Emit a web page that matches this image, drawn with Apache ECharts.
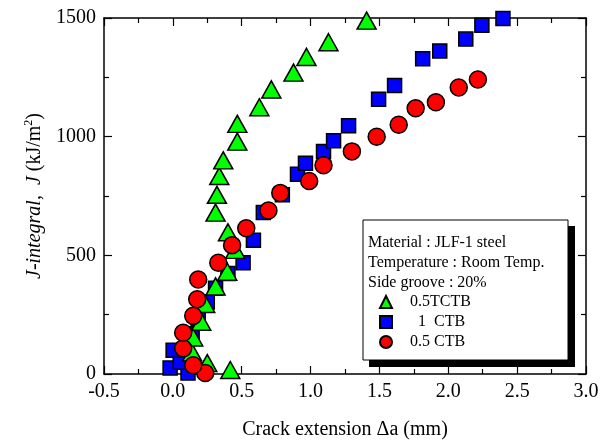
<!DOCTYPE html>
<html>
<head>
<meta charset="UTF-8">
<script src="https://cdn.jsdelivr.net/npm/echarts/dist/echarts.min.js"></script>
<style>
  html, body { margin: 0; padding: 0; background: #ffffff; }
  #jrPlot { width: 611px; height: 445px; }
</style>
</head>
<body>
<div id="jrPlot"></div>
<script type="text/javascript">
// Data: [crack extension (mm), J (kJ/m2)]
const tctb05 = [
    [0.417, 17], [0.25, 46], [0.14, 91], [0.148, 154], [0.206, 220], [0.235, 295],
    [0.31, 369], [0.395, 431], [0.453, 523], [0.40, 597], [0.31, 680], [0.32, 755],
    [0.337, 834], [0.366, 900], [0.468, 979], [0.468, 1054], [0.628, 1124], [0.715, 1199],
    [0.876, 1270], [0.97, 1336], [1.13, 1398], [1.407, 1489]
];
const ctb1 = [
    [-0.02, 25], [0.11, 4], [0.053, 50], [0.002, 100], [0.14, 170], [0.184, 232],
    [0.25, 303], [0.31, 361], [0.40, 423], [0.51, 469], [0.585, 564], [0.657, 680],
    [0.795, 755], [0.905, 842], [0.963, 888], [1.094, 938], [1.167, 983], [1.276, 1046],
    [1.494, 1158], [1.61, 1216], [1.814, 1328], [1.938, 1361], [2.127, 1411], [2.244, 1469],
    [2.397, 1498]
];
const ctb05 = [
    [0.235, 4], [0.148, 37], [0.075, 108], [0.075, 174], [0.148, 245], [0.177, 315],
    [0.184, 398], [0.33, 469], [0.43, 543], [0.533, 614], [0.694, 689], [0.78, 763],
    [0.99, 813], [1.094, 880], [1.30, 938], [1.48, 1000], [1.64, 1050], [1.763, 1120],
    [1.91, 1145], [2.076, 1207], [2.215, 1241]
];
const seriesNames = ['0.5TCTB', '  1  CTB', '0.5 CTB'];
const infoLines = ['Material : JLF-1 steel', 'Temperature : Room Temp.', 'Side groove : 20%'];

const serif = 'Liberation Serif';

// Frame axes: ticks pointing inward on all four sides.
function frameAxis(extra) {
    return Object.assign({
        type: 'value',
        axisLine: { show: true, onZero: false, lineStyle: { color: '#000', width: 1.5 } },
        axisTick: { show: true, inside: true, length: 8, lineStyle: { color: '#000', width: 1.2 } },
        minorTick: { show: true, splitNumber: 2, length: 5, lineStyle: { color: '#000', width: 1.2 } },
        splitLine: { show: false },
        axisLabel: { show: false }
    }, extra);
}

const chart = echarts.init(document.getElementById('jrPlot'));

const option = {
    backgroundColor: '#ffffff',
    animation: false,
    grid: { left: 104, right: 25, top: 18, bottom: 66 },
    xAxis: [
        frameAxis({
            min: -0.5, max: 3.0, interval: 0.5, position: 'bottom',
            axisLabel: {
                show: true, margin: 8, color: '#000', fontFamily: serif, fontSize: 20,
                formatter: v => v.toFixed(1)
            },
            name: 'Crack extension \u0394a (mm)',
            nameLocation: 'middle', nameGap: 46,
            nameTextStyle: { color: '#000', fontFamily: serif, fontSize: 20 }
        }),
        frameAxis({ min: -0.5, max: 3.0, interval: 0.5, position: 'top' })
    ],
    yAxis: [
        frameAxis({
            min: 0, max: 1500, interval: 500, position: 'left',
            axisLabel: {
                show: true, margin: 8, color: '#000', fontFamily: serif, fontSize: 20,
                formatter: v => String(v)
            },
            name: '{i|J-integral,  J} {n|(kJ/m}{s|2}{n|)}',
            nameLocation: 'middle', nameGap: 50,
            nameTextStyle: {
                color: '#000', fontFamily: serif, fontSize: 20,
                rich: {
                    i: { fontFamily: serif, fontSize: 20, fontStyle: 'italic', color: '#000', lineHeight: 24 },
                    n: { fontFamily: serif, fontSize: 20, color: '#000', lineHeight: 24 },
                    s: { fontFamily: serif, fontSize: 12, color: '#000', verticalAlign: 'top', lineHeight: 24 }
                }
            }
        }),
        frameAxis({ min: 0, max: 1500, interval: 500, position: 'right' })
    ],
    legend: {
        data: seriesNames,
        orient: 'vertical',
        left: 379, top: 294,
        padding: 0,
        itemWidth: 12, itemHeight: 12, itemGap: 4,
        z: 10,
        textStyle: { color: '#000', fontFamily: serif, fontSize: 16, lineHeight: 16, padding: [0, 0, 0, 13] }
    },
    graphic: [
        { type: 'rect', z: 5, shape: { x: 369, y: 226, width: 206, height: 141 }, style: { fill: '#000' } },
        { type: 'rect', z: 6, shape: { x: 363, y: 220, width: 205, height: 140 },
          style: { fill: '#fff', stroke: '#000', lineWidth: 1 } },
        ...infoLines.map((t, k) => ({
            type: 'text', z: 7, left: 368, top: 235 + k * 20,
            style: { text: t, fill: '#000', font: '16px "' + serif + '"' }
        }))
    ],
    series: [
        {
            name: seriesNames[1], type: 'scatter', data: ctb1,
            symbol: 'rect', symbolSize: 14,
            itemStyle: { color: '#0000ff', borderColor: '#000', borderWidth: 1.5, opacity: 1 }
        },
        {
            name: seriesNames[0], type: 'scatter', data: tctb05,
            symbol: 'triangle', symbolSize: [19, 17],
            itemStyle: { color: '#00ff00', borderColor: '#000', borderWidth: 1.5, opacity: 1 }
        },
        {
            name: seriesNames[2], type: 'scatter', data: ctb05,
            symbol: 'circle', symbolSize: 17,
            itemStyle: { color: '#ff0000', borderColor: '#000', borderWidth: 1.5, opacity: 1 }
        }
    ]
};

chart.setOption(option);
</script>
</body>
</html>
